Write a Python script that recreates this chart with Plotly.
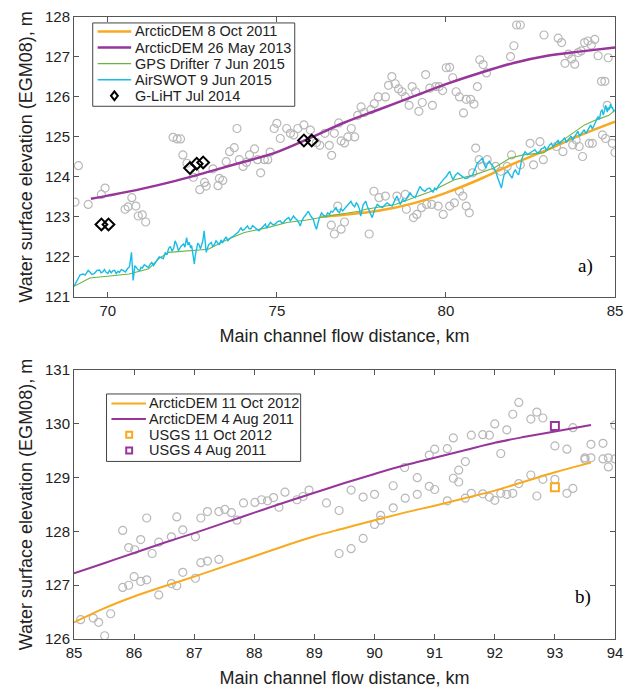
import plotly.graph_objects as go

# ---------------- DATA: panel a ----------------
arcticdem_2011_x = [76.3, 77, 78, 79, 80, 81, 82, 83, 84, 85]
arcticdem_2011_y = [123.0, 123.05, 123.15, 123.33, 123.6, 123.94, 124.33, 124.68, 125.05, 125.38]

arcticdem_2013_x = [69.5, 70, 71, 72, 73, 74, 75, 76, 77, 78, 79, 80, 81, 82, 83, 84, 85]
arcticdem_2013_y = [123.45, 123.53, 123.7, 123.9, 124.13, 124.37, 124.62, 124.98, 125.36, 125.68,
                    126.0, 126.32, 126.6, 126.85, 127.03, 127.14, 127.24]

gps_x = [69.0, 69.47, 70.05, 70.63, 71.21, 71.5, 71.8, 72.38, 72.97, 73.55, 74.04, 74.72, 75.3,
         75.89, 76.66, 77.43, 77.63, 78.5, 79.57, 80.25, 80.84, 81.42, 81.9, 82.29, 82.88, 83.46,
         84.1, 84.43, 84.82, 85.0]
gps_y = [121.26, 121.47, 121.52, 121.57, 121.7, 121.95, 122.11, 122.15, 122.19, 122.44, 122.61,
         122.73, 122.86, 122.92, 123.04, 123.14, 123.19, 123.31, 123.64, 123.93, 124.05, 124.22,
         124.47, 124.55, 124.6, 124.92, 125.3, 125.42, 125.54, 125.67]

airswot_x = [
    69.0, 69.05, 69.1, 69.18, 69.27, 69.33, 69.38, 69.42, 69.47, 69.53, 69.6, 69.68, 69.76, 69.8,
    69.85, 69.9, 69.95, 70.0, 70.05, 70.1, 70.15, 70.2, 70.25, 70.3, 70.34, 70.4, 70.45, 70.52,
    70.58, 70.64, 70.7, 70.75, 70.8, 70.85, 70.9, 70.95, 70.98, 71.02, 71.08, 71.15, 71.2, 71.26,
    71.3, 71.35, 71.4, 71.46, 71.52, 71.58, 71.64, 71.7, 71.75, 71.8, 71.85, 71.9, 71.95, 71.99,
    72.04, 72.09, 72.16, 72.24, 72.28, 72.33, 72.37, 72.41, 72.45, 72.48, 72.52, 72.56, 72.59,
    72.62, 72.66, 72.7, 72.74, 72.77, 72.81, 72.85, 72.88, 72.91, 72.98, 73.06, 73.1, 73.15,
    73.2, 73.25, 73.3, 73.35, 73.4, 73.45, 73.5, 73.55, 73.6, 73.64, 73.72, 73.79, 73.86, 73.94,
    73.98, 74.03, 74.08, 74.13, 74.18, 74.23, 74.28, 74.33, 74.4, 74.47, 74.55, 74.62, 74.66,
    74.7, 74.76, 74.81, 74.88, 74.95, 75.02, 75.1, 75.15, 75.2, 75.25, 75.3, 75.35, 75.4, 75.45,
    75.49, 75.55, 75.6, 75.65, 75.69, 75.74, 75.79, 75.86, 75.93, 76.0, 76.08, 76.12, 76.17,
    76.25, 76.32, 76.38, 76.45, 76.5, 76.56, 76.6, 76.65, 76.7, 76.75, 76.8, 76.85, 76.9, 76.95,
    77.02, 77.08, 77.14, 77.19, 77.24, 77.3, 77.35, 77.39, 77.44, 77.48, 77.55, 77.63, 77.68,
    77.73, 77.78, 77.82, 77.9, 77.97, 78.04, 78.12, 78.2, 78.26, 78.34, 78.41, 78.48, 78.55,
    78.6, 78.65, 78.72, 78.79, 78.86, 78.94, 79.0, 79.09, 79.16, 79.23, 79.3, 79.38, 79.45,
    79.52, 79.57, 79.62, 79.67, 79.72, 79.8, 79.87, 79.94, 80.01, 80.06, 80.11, 80.16, 80.21,
    80.28, 80.35, 80.42, 80.5, 80.57, 80.64, 80.72, 80.79, 80.86, 80.93, 81.0, 81.08, 81.13,
    81.18, 81.23, 81.28, 81.32, 81.37, 81.42, 81.47, 81.52, 81.57, 81.6, 81.64, 81.68, 81.72,
    81.78, 81.83, 81.9, 81.96, 82.0, 82.05, 82.1, 82.15, 82.2, 82.24, 82.29, 82.34, 82.41,
    82.48, 82.56, 82.63, 82.7, 82.77, 82.82, 82.88, 82.92, 82.97, 83.02, 83.07, 83.12, 83.17,
    83.22, 83.27, 83.32, 83.36, 83.41, 83.46, 83.51, 83.56, 83.61, 83.66, 83.7, 83.75, 83.8,
    83.85, 83.9, 83.95, 84.0, 84.04, 84.09, 84.14, 84.19, 84.24, 84.28, 84.33, 84.38, 84.43,
    84.46, 84.5, 84.54, 84.58, 84.62, 84.65, 84.69, 84.72, 84.75, 84.77, 84.8, 84.82, 84.85,
    84.87, 84.9, 84.92, 84.96, 85.0]
airswot_y = [
    121.26, 121.36, 121.42, 121.55, 121.57, 121.54, 121.6, 121.66, 121.62, 121.56, 121.58, 121.66,
    121.67, 121.6, 121.62, 121.68, 121.61, 121.58, 121.66, 121.6, 121.65, 121.66, 121.58, 121.64,
    121.61, 121.68, 121.66, 121.62, 121.7, 121.75, 122.11, 121.41, 121.78, 121.72, 121.67, 121.66,
    121.74, 121.72, 121.8, 121.76, 121.73, 121.82, 121.86, 121.78, 121.84, 121.9, 122.0, 121.98,
    121.95, 122.11, 122.05, 122.21, 122.26, 122.14, 122.22, 122.4, 122.3, 122.15, 122.26, 122.32,
    122.24, 122.48, 122.3, 122.36, 122.22, 122.28, 122.1, 121.82, 122.05, 122.19, 122.34, 122.3,
    122.2, 122.28, 122.4, 122.65, 122.3, 122.11, 122.3, 122.36, 122.26, 122.3, 122.4, 122.36,
    122.3, 122.42, 122.36, 122.44, 122.5, 122.4, 122.46, 122.48, 122.52, 122.57, 122.62, 122.73,
    122.66, 122.68, 122.74, 122.77, 122.7, 122.7, 122.78, 122.75, 122.7, 122.65, 122.72, 122.77,
    122.82, 122.72, 122.8, 122.86, 122.8, 122.82, 122.88, 122.9, 122.84, 122.86, 122.92, 122.94,
    122.98, 122.9, 122.96, 123.02, 122.96, 122.92, 122.85, 122.77, 122.9, 122.98, 123.05, 123.14,
    123.02, 122.94, 122.8, 122.69, 122.95, 123.1, 123.04, 123.0, 123.1, 123.06, 123.14, 123.12,
    123.18, 123.23, 123.14, 123.1, 123.2, 123.15, 123.22, 123.28, 123.33, 123.39, 123.3, 123.25,
    123.35, 123.31, 123.2, 123.02, 123.3, 123.39, 123.25, 123.14, 123.05, 122.98, 123.2, 123.31,
    123.26, 123.23, 123.3, 123.35, 123.3, 123.27, 123.4, 123.52, 123.42, 123.31, 123.44, 123.39,
    123.5, 123.6, 123.52, 123.48, 123.62, 123.76, 123.68, 123.64, 123.7, 123.72, 123.66, 123.62,
    123.72, 123.68, 123.8, 123.89, 123.95, 124.01, 124.08, 124.14, 124.02, 123.93, 124.04, 124.1,
    124.05, 124.01, 123.96, 123.97, 124.02, 124.05, 124.2, 124.34, 124.4, 124.47, 124.32, 124.22,
    124.34, 124.39, 124.33, 124.3, 124.22, 124.14, 124.0, 123.89, 123.8, 123.72, 123.9, 124.05,
    124.1, 124.14, 124.04, 123.97, 124.1, 124.18, 124.1, 124.05, 124.25, 124.43, 124.55, 124.63,
    124.56, 124.59, 124.64, 124.68, 124.6, 124.63, 124.7, 124.72, 124.76, 124.66, 124.74, 124.8,
    124.84, 124.74, 124.82, 124.88, 124.92, 124.82, 124.88, 124.92, 124.98, 124.86, 124.92,
    124.96, 125.02, 124.92, 125.0, 125.09, 125.14, 125.02, 125.08, 125.13, 125.18, 125.08, 125.16,
    125.25, 125.3, 125.2, 125.28, 125.38, 125.45, 125.5, 125.44, 125.63, 125.68, 125.55, 125.65,
    125.79, 125.72, 125.62, 125.74, 125.67, 125.76, 125.82, 125.72, 125.75, 125.64, 125.67]

gliht_x = [69.81, 70.02, 72.43, 72.63, 72.82, 75.8, 76.03]
gliht_y = [122.81, 122.81, 124.22, 124.33, 124.36, 124.91, 124.91]

grey_a_x = [69.03, 69.13, 69.42, 69.81, 69.92, 70.51, 70.6, 70.71, 70.83, 70.9, 71.02, 71.12,
            71.93, 72.05, 72.15, 72.22, 72.34, 72.53, 72.58, 72.72, 72.86, 72.91, 73.11, 73.26,
            73.3, 73.4, 73.5, 73.6, 73.74, 73.82, 73.89, 74.0, 74.1, 74.19, 74.34, 74.43, 74.52,
            74.63, 74.73, 74.8, 74.92, 75.0, 75.1, 75.29, 75.4, 75.5, 75.62, 75.8, 75.99, 76.17,
            76.27, 76.42, 76.55, 76.62, 76.7, 76.83, 76.9, 77.0, 77.1, 77.2, 77.3, 77.39, 77.49,
            77.58, 77.78, 77.88, 78.0, 78.21, 78.3, 78.4, 78.5, 78.6, 78.7, 78.8, 78.91, 79.0,
            79.1, 79.2, 79.3, 79.4, 79.52, 79.6, 79.7, 79.8, 79.9, 80.01, 80.11, 80.2, 80.3, 80.4,
            80.52, 80.6, 80.73, 80.83, 80.93, 81.0, 81.1, 81.2, 81.91, 82.01, 82.09, 82.2, 82.9,
            83.32, 83.42, 83.52, 83.62, 83.72, 83.81, 83.91, 84.0, 84.1, 84.2, 84.3, 84.4, 84.5,
            84.6, 84.7, 84.8,
            76.61, 76.7, 76.8, 76.9, 77.0, 77.73, 77.87, 78.02, 78.21, 78.55, 78.8, 78.83, 79.04,
            79.14, 79.28, 79.43, 79.58, 79.77, 79.92, 80.11, 80.25, 80.4, 80.5, 80.6, 80.69,
            80.79, 80.88, 80.98, 81.07, 81.22, 81.47, 81.62, 81.81, 81.94, 82.2, 82.49, 82.59,
            82.78, 82.88, 83.27, 83.46, 83.75, 83.85, 83.94, 84.04, 84.24, 84.33, 84.63, 84.72,
            84.77, 84.92, 85.0]
grey_a_y = [123.37, 124.28, 123.31, 123.56, 123.72, 123.19, 123.25, 123.48, 123.27, 123.02, 123.05,
            122.87, 124.99, 124.95, 124.95, 124.55, 124.34, 123.99, 124.1, 123.68, 123.86, 123.77,
            124.2, 123.78, 123.96, 123.91, 124.38, 124.63, 124.73, 125.21, 124.43, 124.26, 124.36,
            124.55, 124.7, 124.43, 124.1, 124.43, 124.43, 124.62, 125.21, 125.34, 124.96, 125.21,
            125.09, 125.05, 125.21, 125.3, 125.17, 124.86, 124.79, 125.09, 124.79, 124.54, 125.09,
            125.35, 124.9, 124.85, 125.0, 125.21, 125.0, 125.54, 125.75, 125.61, 125.68, 125.83,
            126.0, 126.0, 126.29, 126.51, 126.33, 126.2, 126.13, 126.0, 125.79, 126.26, 126.13,
            125.64, 125.86, 126.56, 126.22, 125.79, 126.26, 126.26, 126.16, 126.73, 126.74,
            126.48, 126.13, 126.0, 125.6, 125.94, 125.94, 125.82, 126.26, 126.93, 126.81, 126.6,
            127.01, 127.28, 127.8, 127.8, 127.55, 127.47, 127.36, 126.84, 127.07, 126.95, 126.82,
            127.11, 127.15, 127.36, 127.4, 127.3, 127.44, 127.03, 126.39, 126.39, 126.98,
            122.79, 122.57, 123.27, 122.69, 122.87, 122.57, 123.64, 123.48, 123.52, 123.52,
            123.56, 123.19, 122.98, 123.06, 123.23, 123.31, 123.31, 123.27, 123.06, 123.27,
            123.35, 123.64, 123.52, 123.27, 123.1, 124.1, 124.72, 124.43, 124.26, 124.43, 124.26,
            124.14, 124.26, 124.55, 124.3, 124.84, 124.3, 124.88, 124.43, 124.76, 124.63, 124.8,
            124.92, 124.76, 124.51, 124.84, 124.84, 125.05, 124.96, 125.79, 124.84, 124.61]

# ---------------- DATA: panel b ----------------
arcticdem_2012_x = [85, 85.5, 86, 86.5, 87, 87.5, 88, 88.5, 89, 89.5, 90, 90.5, 91, 91.5, 92, 92.5, 93, 93.6]
arcticdem_2012_y = [126.31, 126.57, 126.79, 126.98, 127.16, 127.35, 127.54, 127.73, 127.91, 128.06,
                    128.21, 128.35, 128.48, 128.62, 128.76, 128.93, 129.1, 129.28]
arcticdem_aug2011_x = [85, 85.5, 86, 86.5, 87, 87.5, 88, 88.5, 89, 89.5, 90, 90.5, 91, 91.5, 92, 92.5, 93, 93.6]
arcticdem_aug2011_y = [127.22, 127.41, 127.6, 127.79, 127.97, 128.16, 128.35, 128.54, 128.72, 128.9,
                       129.07, 129.23, 129.37, 129.51, 129.65, 129.76, 129.86, 129.98]

usgs_oct2012_x = [93.0]
usgs_oct2012_y = [128.82]
usgs_aug2011_x = [93.0]
usgs_aug2011_y = [129.96]

grey_b_x = [85.11, 85.32, 85.41, 85.51, 85.61, 85.81, 85.81, 85.91, 85.91, 86.0, 86.01, 86.11, 86.11,
            86.21, 86.21, 86.3, 86.41, 86.41, 86.62, 86.62, 86.71, 86.71, 86.81, 86.81, 87.02, 87.02,
            87.11, 87.11, 87.22, 87.22, 87.41, 87.41, 87.51, 87.62, 87.71, 87.82, 88.01, 88.12,
            88.22, 88.32, 88.41, 88.51, 88.71, 88.81, 88.91, 89.2, 89.41, 89.41, 89.61, 89.61,
            89.81, 89.81, 90.0, 90.0, 90.1, 90.1, 90.31, 90.31, 90.5, 90.51, 90.71, 90.71, 90.91,
            90.91, 91.0, 91.0, 91.21, 91.21, 91.31, 91.31, 91.4, 91.4, 91.51, 91.51, 91.61, 91.61,
            91.8, 91.8, 91.91, 91.91, 92.0, 92.0, 92.1, 92.1, 92.2, 92.2, 92.3, 92.3, 92.4, 92.4,
            92.6, 92.6, 92.7, 92.7, 92.8, 92.8, 93.0, 93.0, 93.2, 93.2, 93.3, 93.3, 93.5, 93.5,
            93.6, 93.6, 93.8, 93.8, 93.89, 93.89, 94.0, 94.0]
grey_b_y = [126.36, 126.39, 126.31, 126.06, 126.47, 126.96, 128.02, 127.0, 127.7, 127.16, 127.66,
            127.85, 127.07, 128.25, 127.1, 127.59, 126.82, 127.8, 127.9, 127.03, 126.99, 128.27,
            127.24, 128.03, 127.13, 127.9, 127.42, 128.25, 128.37, 127.45, 127.48, 128.37, 128.41,
            128.35, 128.21, 128.53, 128.54, 128.59, 128.57, 128.63, 128.45, 128.73, 128.59,
            128.65, 128.77, 128.53, 128.39, 127.59, 128.77, 127.68, 128.64, 127.87, 128.69,
            128.13, 128.3, 128.21, 128.85, 128.44, 129.19, 128.62, 129.0, 128.69, 129.42, 128.84,
            129.53, 128.78, 129.54, 128.57, 129.74, 128.99, 129.14, 128.92, 129.3, 128.62, 129.79,
            128.71, 129.8, 128.7, 129.79, 128.64, 130.0, 128.58, 129.45, 128.71, 129.89, 128.69,
            130.18, 128.71, 130.4, 128.89, 130.09, 129.05, 130.22, 128.66, 130.11, 128.97, 129.59,
            128.97, 129.53, 128.71, 129.93, 128.8, 129.37, 129.34, 129.62, 129.37, 129.64, 129.35,
            129.37, 129.2, 129.98, 129.35]

legend_a_labels = ["ArcticDEM 8 Oct 2011", "ArcticDEM 26 May 2013", "GPS Drifter 7 Jun 2015",
                   "AirSWOT 9 Jun 2015", "G-LiHT Jul 2014"]
legend_b_labels = ["ArcticDEM 11 Oct 2012", "ArcticDEM 4 Aug 2011", "USGS 11 Oct 2012", "USGS 4 Aug 2011"]

x_title = "Main channel flow distance, km"
y_title = "Water surface elevation (EGM08), m"

# ---------------- STYLE ----------------
ORANGE = "#F8A91F"
PURPLE = "#97359A"
GREEN = "#6DB33F"
CYAN = "#17BDE6"
GREY = "#B8B8B8"
AXC = "#555555"
TXT = "#222222"
FONT = "Liberation Sans, Arial, sans-serif"

W, H = 631, 693
ML, MR, MT, MB = 74, 8, 16, 50
PW = W - ML - MR
PH = H - MT - MB


def PX(p):
    return (p - ML) / PW


def PY(p):
    return (H - MB - p) / PH


fig = go.Figure()

grey_marker = dict(symbol="circle-open", size=8, color=GREY, line=dict(width=1.2, color=GREY))

# panel a
fig.add_trace(go.Scatter(x=grey_a_x, y=grey_a_y, mode="markers", marker=grey_marker,
                         xaxis="x", yaxis="y", showlegend=False, hoverinfo="skip"))
fig.add_trace(go.Scatter(x=arcticdem_2011_x, y=arcticdem_2011_y, mode="lines", line=dict(color=ORANGE, width=2.5),
                         line_shape="spline", xaxis="x", yaxis="y", name=legend_a_labels[0], showlegend=False))
fig.add_trace(go.Scatter(x=arcticdem_2013_x, y=arcticdem_2013_y, mode="lines", line=dict(color=PURPLE, width=2.5),
                         line_shape="spline", xaxis="x", yaxis="y", name=legend_a_labels[1], showlegend=False))
fig.add_trace(go.Scatter(x=gps_x, y=gps_y, mode="lines", line=dict(color=GREEN, width=1.1),
                         xaxis="x", yaxis="y", name=legend_a_labels[2], showlegend=False))
fig.add_trace(go.Scatter(x=airswot_x, y=airswot_y, mode="lines", line=dict(color=CYAN, width=1.4),
                         xaxis="x", yaxis="y", name=legend_a_labels[3], showlegend=False))
fig.add_trace(go.Scatter(x=gliht_x, y=gliht_y, mode="markers",
                         marker=dict(symbol="diamond-open", size=9, color="black", line=dict(width=2, color="black")),
                         xaxis="x", yaxis="y", name=legend_a_labels[4], showlegend=False))

# panel b
fig.add_trace(go.Scatter(x=grey_b_x, y=grey_b_y, mode="markers", marker=grey_marker,
                         xaxis="x2", yaxis="y2", showlegend=False, hoverinfo="skip"))
fig.add_trace(go.Scatter(x=arcticdem_2012_x, y=arcticdem_2012_y, mode="lines", line=dict(color=ORANGE, width=2),
                         line_shape="spline", xaxis="x2", yaxis="y2", name=legend_b_labels[0], showlegend=False))
fig.add_trace(go.Scatter(x=arcticdem_aug2011_x, y=arcticdem_aug2011_y, mode="lines", line=dict(color=PURPLE, width=2),
                         line_shape="spline", xaxis="x2", yaxis="y2", name=legend_b_labels[1], showlegend=False))
fig.add_trace(go.Scatter(x=usgs_oct2012_x, y=usgs_oct2012_y, mode="markers",
                         marker=dict(symbol="square-open", size=8, color=ORANGE, line=dict(width=2, color=ORANGE)),
                         xaxis="x2", yaxis="y2", name=legend_b_labels[2], showlegend=False))
fig.add_trace(go.Scatter(x=usgs_aug2011_x, y=usgs_aug2011_y, mode="markers",
                         marker=dict(symbol="square-open", size=8, color=PURPLE, line=dict(width=2, color=PURPLE)),
                         xaxis="x2", yaxis="y2", name=legend_b_labels[3], showlegend=False))

axis_common = dict(showline=True, linecolor=AXC, linewidth=1, mirror="ticks", ticks="inside", ticklen=5,
                   tickcolor=AXC, tickwidth=1, showgrid=False, zeroline=False, ticklabeloverflow="allow",
                   tickfont=dict(family=FONT, size=15, color=TXT))
title_font = dict(family=FONT, size=18, color=TXT)

fig.update_layout(
    width=W, height=H, margin=dict(l=ML, r=MR, t=MT, b=MB),
    paper_bgcolor="white", plot_bgcolor="white", showlegend=False,
    font=dict(family=FONT, color=TXT),
    xaxis=dict(domain=[0, 1], anchor="y", range=[69, 85], tickvals=[70, 75, 80, 85],
               title=dict(text=x_title, font=title_font, standoff=11), **axis_common),
    yaxis=dict(domain=[PY(298), 1], anchor="x", range=[121, 128], dtick=1,
               title=dict(text=y_title, font=title_font, standoff=7), **axis_common),
    xaxis2=dict(domain=[0, 1], anchor="y2", range=[85, 94], dtick=1,
                title=dict(text=x_title, font=title_font, standoff=11), **axis_common),
    yaxis2=dict(domain=[0, PY(372)], anchor="x2", range=[126, 131], dtick=1,
                title=dict(text=y_title, font=title_font, standoff=7), **axis_common),
)

shapes = []
annotations = []

# panel labels
annotations.append(dict(text="a)", x=84.13, y=121.77, xref="x", yref="y", showarrow=False,
                        font=dict(family="Liberation Serif, Times New Roman, serif", size=19, color="black")))
annotations.append(dict(text="b)", x=93.46, y=126.79, xref="x2", yref="y2", showarrow=False,
                        font=dict(family="Liberation Serif, Times New Roman, serif", size=19, color="black")))

LEG_FONT = dict(family=FONT, size=14.5, color=TXT)

# legend a
shapes.append(dict(type="rect", xref="paper", yref="paper", x0=PX(93), x1=PX(298), y0=PY(106), y1=PY(22),
                   line=dict(color="#444", width=1), fillcolor="white", layer="above"))
rows_a = [30.6, 46.8, 63.0, 79.2, 95.4]
styles_a = [(ORANGE, 2.5), (PURPLE, 2.5), (GREEN, 1.1), (CYAN, 1.5)]
for i, (c, w) in enumerate(styles_a):
    shapes.append(dict(type="line", xref="paper", yref="paper", x0=PX(98), x1=PX(132),
                       y0=PY(rows_a[i]), y1=PY(rows_a[i]), line=dict(color=c, width=w), layer="above"))
cx, cy = 115, rows_a[4]
shapes.append(dict(type="path", xref="paper", yref="paper", layer="above",
                   path=f"M {PX(cx)},{PY(cy-4.5)} L {PX(cx+3.5)},{PY(cy)} L {PX(cx)},{PY(cy+4.5)} L {PX(cx-3.5)},{PY(cy)} Z",
                   line=dict(color="black", width=2)))
for i, lab in enumerate(legend_a_labels):
    annotations.append(dict(text=lab, x=PX(134), y=PY(rows_a[i]), xref="paper", yref="paper", xanchor="left",
                            yanchor="middle", showarrow=False, font=LEG_FONT))

# legend b
shapes.append(dict(type="rect", xref="paper", yref="paper", x0=PX(107), x1=PX(304), y0=PY(464), y1=PY(396),
                   line=dict(color="#444", width=1), fillcolor="white", layer="above"))
rows_b = [405.5, 421.3, 437.1, 452.9]
for i, c in enumerate([ORANGE, PURPLE]):
    shapes.append(dict(type="line", xref="paper", yref="paper", x0=PX(112), x1=PX(147),
                       y0=PY(rows_b[i]), y1=PY(rows_b[i]), line=dict(color=c, width=2), layer="above"))
for i, c in [(2, ORANGE), (3, PURPLE)]:
    shapes.append(dict(type="rect", xref="paper", yref="paper", x0=PX(127), x1=PX(133),
                       y0=PY(rows_b[i] + 3), y1=PY(rows_b[i] - 3), line=dict(color=c, width=2), layer="above"))
for i, lab in enumerate(legend_b_labels):
    annotations.append(dict(text=lab, x=PX(148.5), y=PY(rows_b[i]), xref="paper", yref="paper", xanchor="left",
                            yanchor="middle", showarrow=False, font=LEG_FONT))

fig.update_layout(shapes=shapes, annotations=annotations)

fig.write_html("out.html", config={"displayModeBar": False},
               post_script="document.body.style.margin='0px';document.body.style.overflow='hidden';")
